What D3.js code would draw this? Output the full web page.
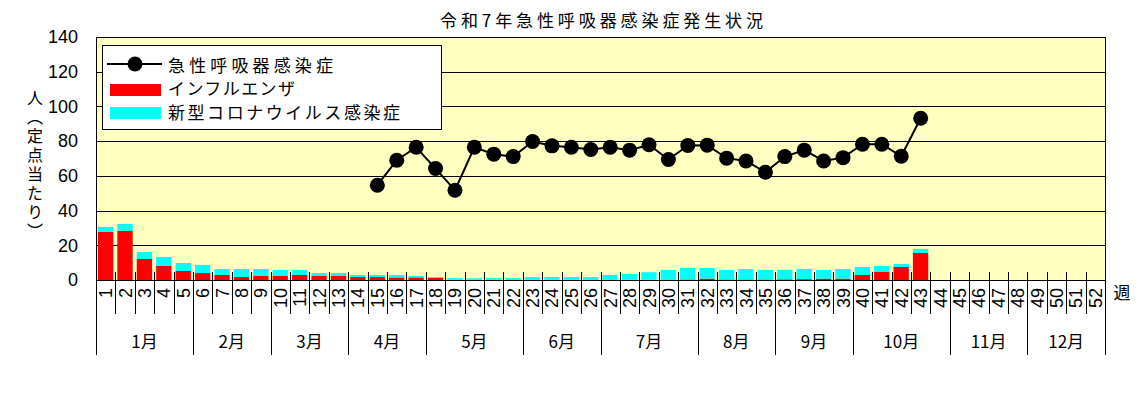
<!DOCTYPE html>
<html>
<head>
  <meta charset="utf-8">
  <title>令和7年急性呼吸器感染症発生状況</title>
  <style>
    body {
      margin: 0;
      background: #fff;
    }

    text {
      font-family: "Noto Sans CJK JP", sans-serif;
      fill: #000;
    }

    .num {
      font-family: "Liberation Sans", Arial, sans-serif;
    }

    .vlabel {
      writing-mode: vertical-rl;
      text-orientation: mixed;
      font-feature-settings: "vert" 1;
      letter-spacing: 3px;
    }
  </style>
</head>
<body>
  <svg id="chart"></svg>

  <script src="https://cdn.jsdelivr.net/npm/d3@7"></script>
  <script>
    // 週（1〜52）
    var weeks = [1, 2, 3, 4, 5, 6, 7, 8, 9, 10, 11, 12, 13, 14, 15, 16, 17, 18, 19, 20,
      21, 22, 23, 24, 25, 26, 27, 28, 29, 30, 31, 32, 33, 34, 35, 36, 37, 38, 39, 40,
      41, 42, 43, 44, 45, 46, 47, 48, 49, 50, 51, 52];
    var monthNames = ["1月", "2月", "3月", "4月", "5月", "6月", "7月", "8月", "9月", "10月", "11月", "12月"];
    var monthWeekCounts = [5, 4, 4, 4, 5, 4, 5, 4, 4, 5, 4, 4];
    var yTicks = [0, 20, 40, 60, 80, 100, 120, 140];

    // インフルエンザ（第1〜43週）
    var flu = [27.7, 28.3, 12.1, 8.1, 5.2, 4.0, 2.9, 1.7, 2.3, 2.3,
      2.9, 2.3, 2.3, 1.7, 1.7, 1.5, 1.5, 1.2, 0.1, 0.1,
      0.1, 0.1, 0.1, 0.1, 0.1, 0.1, 0.1, 0.1, 0.1, 0.2,
      0.3, 0.8, 0.3, 0.3, 0.3, 0.4, 0.5, 0.8, 0.8, 2.9,
      4.6, 7.5, 15.6];
    // 新型コロナウイルス感染症（第1〜43週）
    var covid = [2.9, 4.0, 4.0, 5.2, 4.6, 4.7, 3.4, 4.6, 4.0, 3.5,
      2.9, 1.7, 1.7, 1.2, 1.2, 1.4, 0.8, 0.5, 1.0, 0.9,
      1.0, 1.0, 1.6, 1.6, 1.6, 1.6, 2.8, 3.4, 4.4, 5.6,
      6.7, 6.1, 5.5, 6.0, 5.5, 5.5, 5.9, 5.0, 5.5, 4.6,
      3.5, 1.7, 2.3];
    // 急性呼吸器感染症（第15週から）
    var ari = [null, null, null, null, null, null, null, null, null, null,
      null, null, null, null, 54.6, 69.0, 76.5, 64.2, 51.7, 76.5,
      72.5, 71.1, 79.8, 77.3, 76.5, 75.2, 76.5, 74.8, 77.9, 69.4,
      77.5, 77.7, 70.2, 68.6, 62.1, 71.1, 74.8, 68.6, 70.5, 78.2,
      78.2, 71.3, 93.2];

    var width = 1141, height = 394;
    var plot = { left: 96, right: 1105, top: 37, bottom: 280 };

    var svg = d3.select("#chart")
      .attr("width", width)
      .attr("height", height);

    var x = d3.scaleBand()
      .domain(weeks)
      .range([plot.left, plot.right])
      .padding(0);
    var step = x.step();

    var y = d3.scaleLinear()
      .domain([0, 140])
      .range([plot.bottom, plot.top]);

    // 背景
    svg.append("rect")
      .attr("x", plot.left)
      .attr("y", plot.top)
      .attr("width", plot.right - plot.left)
      .attr("height", plot.bottom - plot.top)
      .attr("fill", "#ffffc0");

    // 目盛線
    svg.append("g")
      .selectAll("line")
      .data(yTicks)
      .join("line")
      .attr("x1", plot.left)
      .attr("x2", plot.right)
      .attr("y1", d => Math.round(y(d)) + 0.5)
      .attr("y2", d => Math.round(y(d)) + 0.5)
      .attr("stroke", "#000")
      .attr("stroke-width", 1);

    // 積み上げ棒
    var barData = flu.map((f, i) => ({ week: weeks[i], flu: f, covid: covid[i] }));
    var barOffset = step * 0.1, barWidth = step * 0.79;
    var bars = svg.append("g");
    bars.selectAll("rect.flu")
      .data(barData)
      .join("rect")
      .attr("class", "flu")
      .attr("x", d => x(d.week) + barOffset)
      .attr("width", barWidth)
      .attr("y", d => y(d.flu))
      .attr("height", d => y(0) - y(d.flu))
      .attr("fill", "#ff0000");
    bars.selectAll("rect.covid")
      .data(barData)
      .join("rect")
      .attr("class", "covid")
      .attr("x", d => x(d.week) + barOffset)
      .attr("width", barWidth)
      .attr("y", d => y(d.flu + d.covid))
      .attr("height", d => y(d.flu) - y(d.flu + d.covid))
      .attr("fill", "#00ffff");

    // 枠
    svg.append("rect")
      .attr("x", plot.left + 0.5)
      .attr("y", plot.top + 0.5)
      .attr("width", plot.right - plot.left)
      .attr("height", plot.bottom - plot.top)
      .attr("fill", "none")
      .attr("stroke", "#000");

    // 折れ線
    var lineData = ari.map((v, i) => ({ week: weeks[i], value: v }));
    var line = d3.line()
      .defined(d => d.value != null)
      .x(d => x(d.week) + step / 2)
      .y(d => y(d.value));
    svg.append("path")
      .datum(lineData)
      .attr("d", line)
      .attr("fill", "none")
      .attr("stroke", "#000")
      .attr("stroke-width", 2);
    svg.append("g")
      .selectAll("circle")
      .data(lineData.filter(d => d.value != null))
      .join("circle")
      .attr("cx", d => x(d.week) + step / 2)
      .attr("cy", d => y(d.value))
      .attr("r", 7.5)
      .attr("fill", "#000");

    // Y軸ラベル
    svg.append("g")
      .selectAll("text")
      .data(yTicks)
      .join("text")
      .attr("class", "num")
      .attr("x", 78)
      .attr("y", d => y(d))
      .attr("dy", "0.35em")
      .attr("text-anchor", "end")
      .attr("font-size", "18px")
      .text(d => d);

    svg.append("text")
      .attr("class", "vlabel")
      .attr("x", 35)
      .attr("y", 90)
      .attr("font-size", "16px")
      .text("人（定点当たり）");

    // X軸：週の目盛
    var boundaries = d3.range(weeks.length + 1).map(i => plot.left + i * step);
    svg.append("g")
      .selectAll("line")
      .data(boundaries)
      .join("line")
      .attr("x1", d => Math.round(d) + 0.5)
      .attr("x2", d => Math.round(d) + 0.5)
      .attr("y1", 272)
      .attr("y2", 314)
      .attr("stroke", "#000");

    svg.append("g")
      .selectAll("text")
      .data(weeks)
      .join("text")
      .attr("class", "num")
      .attr("font-size", "18px")
      .attr("text-anchor", "end")
      .attr("dominant-baseline", "central")
      .attr("transform", d => "translate(" + (x(d) + step / 2 + 0.5) + ",288) rotate(-90)")
      .text(d => d);

    // 月の区切り
    var cum = [0];
    monthWeekCounts.forEach(function (c) { cum.push(cum[cum.length - 1] + c); });
    svg.append("g")
      .selectAll("line")
      .data(cum)
      .join("line")
      .attr("x1", d => Math.round(plot.left + d * step) + 0.5)
      .attr("x2", d => Math.round(plot.left + d * step) + 0.5)
      .attr("y1", plot.bottom)
      .attr("y2", 355)
      .attr("stroke", "#000");

    svg.append("g")
      .selectAll("text")
      .data(monthNames)
      .join("text")
      .attr("x", (d, i) => plot.left + (cum[i] + cum[i + 1]) / 2 * step)
      .attr("y", 342)
      .attr("dy", "0.35em")
      .attr("text-anchor", "middle")
      .attr("font-size", "17px")
      .text(d => d);

    svg.append("text")
      .attr("x", 1122)
      .attr("y", 293)
      .attr("dy", "0.35em")
      .attr("text-anchor", "middle")
      .attr("font-size", "17px")
      .text("週");

    // タイトル
    svg.append("text")
      .attr("x", 601 - 161)
      .attr("y", 27)
      .attr("font-size", "17px")
      .attr("textLength", 323)
      .attr("lengthAdjust", "spacing")
      .text("令和7年急性呼吸器感染症発生状況");

    // 凡例
    var legend = svg.append("g");
    legend.append("rect")
      .attr("x", 102.5)
      .attr("y", 45.5)
      .attr("width", 339)
      .attr("height", 84)
      .attr("fill", "#fff")
      .attr("stroke", "#000");
    legend.append("line")
      .attr("x1", 107).attr("x2", 162)
      .attr("y1", 64).attr("y2", 64)
      .attr("stroke", "#000").attr("stroke-width", 2);
    legend.append("circle")
      .attr("cx", 135).attr("cy", 64).attr("r", 7.5)
      .attr("fill", "#000");
    legend.append("rect")
      .attr("x", 110).attr("y", 84).attr("width", 51).attr("height", 12)
      .attr("fill", "#ff0000");
    legend.append("rect")
      .attr("x", 110).attr("y", 107).attr("width", 51).attr("height", 12)
      .attr("fill", "#00ffff");
    var legendItems = [
      { label: "急性呼吸器感染症", y: 72, len: 165 },
      { label: "インフルエンザ", y: 95, len: 127 },
      { label: "新型コロナウイルス感染症", y: 119, len: 232 }
    ];
    legend.selectAll("text")
      .data(legendItems)
      .join("text")
      .attr("x", 168)
      .attr("y", d => d.y)
      .attr("font-size", "17px")
      .attr("textLength", d => d.len)
      .attr("lengthAdjust", "spacing")
      .text(d => d.label);
  </script>
</body>
</html>
